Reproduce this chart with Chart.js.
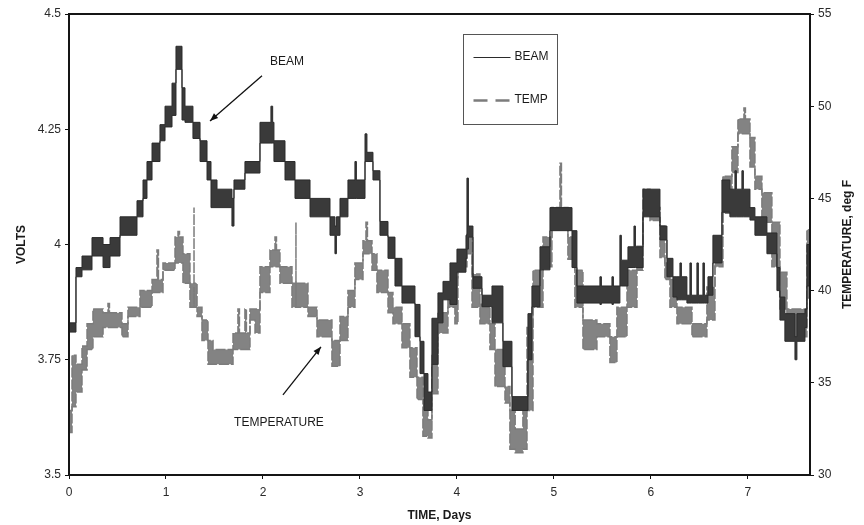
<!DOCTYPE html>
<html>
<head>
<meta charset="utf-8">
<script src="https://cdn.jsdelivr.net/npm/chart.js@4/dist/chart.umd.min.js"></script>
<style>
  html, body { margin: 0; padding: 0; background: #fff; }
  #wrap { width: 864px; height: 525px; }
</style>
</head>
<body>
<div id="wrap"><canvas id="c" width="864" height="525"></canvas></div>
<script>
// Beam output (volts): time in days with the low/high level the signal dithers between
const beamTime = [0.000, 0.072, 0.134, 0.237, 0.351, 0.423, 0.526, 0.701, 0.763, 0.804, 0.856, 0.938, 0.990, 1.062, 1.103, 1.165, 1.196, 1.278, 1.351, 1.423, 1.464, 1.526, 1.680, 1.701, 1.814, 1.969, 2.082, 2.100, 2.113, 2.227, 2.330, 2.485, 2.691, 2.742, 2.757, 2.794, 2.876, 2.948, 2.963, 3.052, 3.072, 3.134, 3.206, 3.289, 3.361, 3.433, 3.567, 3.619, 3.660, 3.701, 3.742, 3.804, 3.856, 3.928, 4.000, 4.093, 4.103, 4.118, 4.165, 4.258, 4.361, 4.474, 4.567, 4.732, 4.773, 4.856, 4.959, 5.186, 5.237, 5.474, 5.489, 5.598, 5.613, 5.680, 5.695, 5.763, 5.825, 5.840, 5.918, 6.093, 6.165, 6.227, 6.268, 6.299, 6.314, 6.371, 6.402, 6.417, 6.474, 6.489, 6.536, 6.551, 6.588, 6.639, 6.732, 6.814, 6.866, 6.881, 6.938, 6.953, 7.021, 7.072, 7.196, 7.299, 7.330, 7.381, 7.485, 7.505, 7.588, 7.608, 7.639];
const beamLow  = [3.81, 3.93, 3.945, 3.975, 3.95, 3.975, 4.02, 4.06, 4.10, 4.14, 4.18, 4.225, 4.255, 4.28, 4.38, 4.27, 4.265, 4.23, 4.18, 4.14, 4.08, 4.08, 4.04, 4.12, 4.155, 4.22, 4.22, 4.22, 4.18, 4.14, 4.10, 4.06, 4.02, 3.98, 4.02, 4.06, 4.10, 4.10, 4.10, 4.18, 4.18, 4.14, 4.02, 3.97, 3.91, 3.873, 3.80, 3.72, 3.64, 3.64, 3.74, 3.83, 3.88, 3.87, 3.94, 3.97, 3.99, 4.016, 3.905, 3.865, 3.83, 3.735, 3.64, 3.75, 3.865, 3.945, 4.03, 3.95, 3.873, 3.87, 3.873, 3.87, 3.873, 3.91, 3.91, 3.95, 3.95, 3.95, 4.06, 4.01, 3.93, 3.886, 3.88, 3.88, 3.88, 3.873, 3.873, 3.873, 3.873, 3.873, 3.873, 3.873, 3.89, 3.96, 4.07, 4.06, 4.06, 4.06, 4.06, 4.06, 4.053, 4.02, 3.98, 3.90, 3.836, 3.79, 3.75, 3.79, 3.82, 3.91, 4.00];
const beamHigh = [3.83, 3.95, 3.975, 4.015, 4.00, 4.015, 4.06, 4.095, 4.14, 4.18, 4.22, 4.26, 4.30, 4.35, 4.43, 4.34, 4.30, 4.265, 4.225, 4.18, 4.14, 4.12, 4.10, 4.14, 4.18, 4.265, 4.30, 4.265, 4.225, 4.18, 4.14, 4.10, 4.06, 4.04, 4.06, 4.10, 4.14, 4.18, 4.14, 4.24, 4.20, 4.16, 4.05, 4.016, 3.97, 3.91, 3.87, 3.79, 3.72, 3.68, 3.84, 3.895, 3.92, 3.96, 3.99, 4.02, 4.144, 4.04, 3.93, 3.89, 3.91, 3.79, 3.67, 3.85, 3.91, 3.995, 4.08, 4.03, 3.91, 3.93, 3.91, 3.93, 3.91, 4.02, 3.966, 3.995, 4.04, 3.995, 4.12, 4.04, 3.97, 3.93, 3.93, 3.96, 3.93, 3.89, 3.96, 3.89, 3.96, 3.89, 3.96, 3.89, 3.93, 4.02, 4.14, 4.12, 4.16, 4.12, 4.16, 4.12, 4.08, 4.06, 4.025, 3.95, 3.886, 3.85, 3.80, 3.85, 3.86, 4.00, 4.00];

// Temperature (deg F): time in days with low/high reading levels
const tempTime = [0.000, 0.031, 0.072, 0.134, 0.186, 0.247, 0.351, 0.402, 0.417, 0.546, 0.608, 0.732, 0.856, 0.907, 0.922, 0.969, 1.093, 1.124, 1.139, 1.175, 1.247, 1.289, 1.289, 1.320, 1.371, 1.433, 1.485, 1.691, 1.742, 1.757, 1.814, 1.829, 1.866, 1.918, 1.969, 2.072, 2.124, 2.139, 2.175, 2.299, 2.340, 2.340, 2.464, 2.557, 2.711, 2.794, 2.876, 2.948, 3.031, 3.062, 3.077, 3.124, 3.175, 3.289, 3.340, 3.433, 3.515, 3.588, 3.649, 3.701, 3.742, 3.804, 3.907, 3.979, 4.010, 4.103, 4.155, 4.237, 4.340, 4.392, 4.495, 4.546, 4.600, 4.680, 4.722, 4.784, 4.887, 4.979, 5.062, 5.077, 5.144, 5.216, 5.299, 5.443, 5.577, 5.649, 5.753, 5.856, 5.918, 5.990, 6.093, 6.144, 6.196, 6.268, 6.423, 6.577, 6.660, 6.742, 6.835, 6.897, 6.959, 6.974, 7.021, 7.072, 7.144, 7.247, 7.330, 7.402, 7.608, 7.639];
const tempLow  = [32.3, 33.7, 34.5, 35.7, 36.8, 37.5, 38.0, 38.0, 38.0, 37.5, 38.6, 39.1, 39.9, 39.9, 39.9, 41.1, 41.5, 41.5, 41.5, 40.4, 39.1, 40.2, 39.1, 38.6, 37.3, 36.0, 36.0, 36.8, 36.8, 36.8, 36.8, 36.8, 38.4, 37.7, 39.9, 41.3, 41.3, 41.3, 40.4, 39.1, 40.5, 39.1, 38.6, 37.5, 35.9, 37.3, 39.1, 40.6, 42.0, 42.0, 42.0, 41.1, 39.9, 38.8, 38.2, 36.9, 35.3, 34.1, 32.1, 32.0, 34.4, 37.7, 39.1, 38.2, 41.3, 42.0, 39.1, 38.2, 36.8, 34.8, 33.9, 31.4, 31.2, 31.4, 33.5, 39.1, 41.3, 43.5, 43.5, 43.5, 41.7, 39.1, 36.8, 37.5, 36.1, 37.5, 39.1, 41.1, 44.2, 43.8, 41.8, 40.6, 39.1, 38.2, 37.5, 38.4, 41.3, 44.2, 46.4, 48.5, 48.5, 48.5, 46.7, 45.5, 43.7, 41.3, 39.0, 37.5, 39.6, 42.0];
const tempHigh = [33.5, 36.5, 36.0, 37.0, 38.2, 39.0, 38.8, 39.3, 38.8, 38.2, 39.1, 40.0, 40.6, 42.2, 40.6, 41.5, 42.9, 43.2, 42.9, 42.0, 40.4, 44.5, 40.4, 39.1, 38.4, 37.3, 36.8, 37.7, 39.0, 37.7, 39.0, 37.7, 39.0, 39.0, 41.3, 42.2, 42.9, 42.2, 41.3, 40.4, 43.7, 40.4, 39.1, 38.4, 37.3, 38.6, 40.0, 41.5, 42.7, 43.7, 42.7, 42.0, 41.1, 39.9, 39.1, 38.2, 36.9, 35.3, 34.1, 33.0, 36.6, 38.8, 40.2, 40.7, 42.2, 43.1, 40.9, 39.3, 38.2, 36.8, 34.8, 33.5, 32.5, 33.5, 38.0, 41.1, 42.9, 44.5, 46.9, 44.5, 42.9, 41.1, 38.4, 38.2, 37.5, 39.1, 41.1, 42.4, 45.5, 44.5, 43.5, 41.5, 40.6, 39.1, 38.2, 40.2, 42.9, 46.2, 47.8, 49.3, 49.9, 49.3, 48.3, 46.2, 45.3, 43.7, 41.0, 39.0, 43.3, 42.0];

// Axis ticks
const timeTicks = [0, 1, 2, 3, 4, 5, 6, 7];
const voltTicks = [3.5, 3.75, 4, 4.25, 4.5];
const voltTickLabels = ['3.5', '3.75', '4', '4.25', '4.5'];
const tempTicks = [30, 35, 40, 45, 50, 55];
const tempTickLabels = ['30', '35', '40', '45', '50', '55'];

const pts = (ts, vs) => ts.map((t, i) => ({ x: t, y: vs[i] }));

const FONT = '"Liberation Sans", Arial, sans-serif';
const BEAM_LINE = '#2b2b2b', BEAM_FILL = '#3a3a3a';
const TEMP_LINE = '#7c7c7c', TEMP_FILL = '#838383';

// Frame, axis titles, legend box and callouts
const decorations = {
  id: 'decorations',
  afterDraw(chart) {
    const { ctx, chartArea: a, scales } = chart;
    const X = v => scales.x.getPixelForValue(v);
    const Y = v => scales.y.getPixelForValue(v);
    ctx.save();

    // plot frame
    ctx.strokeStyle = '#151515';
    ctx.lineWidth = 2;
    ctx.strokeRect(a.left, a.top, a.right - a.left, a.bottom - a.top);

    // axis titles
    ctx.fillStyle = '#1a1a1a';
    ctx.font = 'bold 12px ' + FONT;
    ctx.textAlign = 'center';
    ctx.textBaseline = 'middle';
    ctx.fillText('TIME, Days', (a.left + a.right) / 2, 516);
    ctx.save();
    ctx.translate(22, (a.top + a.bottom) / 2);
    ctx.rotate(-Math.PI / 2);
    ctx.fillText('VOLTS', 0, 0);
    ctx.restore();
    ctx.save();
    ctx.translate(848, (a.top + a.bottom) / 2);
    ctx.rotate(-Math.PI / 2);
    ctx.fillText('TEMPERATURE, deg F', 0, 0);
    ctx.restore();

    // legend
    const lx = 463.5, ly = 34.5;
    ctx.strokeStyle = '#555';
    ctx.lineWidth = 1;
    ctx.strokeRect(lx, ly, 94, 90);
    ctx.font = '12px ' + FONT;
    ctx.textAlign = 'left';
    ctx.fillStyle = '#1a1a1a';
    ctx.strokeStyle = BEAM_LINE;
    ctx.lineWidth = 1;
    ctx.beginPath(); ctx.moveTo(lx + 10, 57.5); ctx.lineTo(lx + 47, 57.5); ctx.stroke();
    ctx.fillText(chart.data.datasets[0].label, lx + 51, 57);
    ctx.strokeStyle = TEMP_LINE;
    ctx.lineWidth = 2.5;
    ctx.setLineDash([14, 8]);
    ctx.beginPath(); ctx.moveTo(lx + 10, 100.5); ctx.lineTo(lx + 47, 100.5); ctx.stroke();
    ctx.setLineDash([]);
    ctx.fillText(chart.data.datasets[2].label, lx + 51, 100);

    // callouts
    const arrow = (x1, y1, x2, y2) => {
      ctx.strokeStyle = '#111';
      ctx.fillStyle = '#111';
      ctx.lineWidth = 1.3;
      ctx.beginPath(); ctx.moveTo(x1, y1); ctx.lineTo(x2, y2); ctx.stroke();
      const ang = Math.atan2(y2 - y1, x2 - x1), L = 8, W = 3.2;
      ctx.beginPath();
      ctx.moveTo(x2, y2);
      ctx.lineTo(x2 - L * Math.cos(ang) + W * Math.sin(ang), y2 - L * Math.sin(ang) - W * Math.cos(ang));
      ctx.lineTo(x2 - L * Math.cos(ang) - W * Math.sin(ang), y2 - L * Math.sin(ang) + W * Math.cos(ang));
      ctx.closePath(); ctx.fill();
    };
    ctx.font = '12px ' + FONT;
    ctx.textAlign = 'center';
    ctx.fillStyle = '#1a1a1a';
    ctx.fillText('BEAM', X(2.247), Y(4.396));
    arrow(X(1.990), Y(4.366), X(1.454), Y(4.268));
    ctx.fillStyle = '#1a1a1a';
    ctx.fillText('TEMPERATURE', X(2.165), Y(3.613));
    arrow(X(2.206), Y(3.674), X(2.598), Y(3.778));
    ctx.restore();
  }
};

const fixedTicks = (vals) => (scale) => { scale.ticks = vals.map(v => ({ value: v })); };

// each level is held from its own time until the next one
const STEP = 'before';

new Chart(document.getElementById('c'), {
  type: 'line',
  data: {
    datasets: [
      { label: 'BEAM', data: pts(beamTime, beamHigh), yAxisID: 'y', stepped: STEP,
        borderColor: BEAM_LINE, borderWidth: 1, pointRadius: 0, fill: false },
      { label: 'beam-low', data: pts(beamTime, beamLow), yAxisID: 'y', stepped: STEP,
        borderColor: BEAM_LINE, borderWidth: 1, pointRadius: 0, fill: '-1', backgroundColor: BEAM_FILL },
      { label: 'TEMP', data: pts(tempTime, tempHigh), yAxisID: 'y2', stepped: STEP,
        borderColor: TEMP_LINE, borderWidth: 1.5, borderDash: [10, 2], pointRadius: 0, fill: false },
      { label: 'temp-low', data: pts(tempTime, tempLow), yAxisID: 'y2', stepped: STEP,
        borderColor: TEMP_LINE, borderWidth: 1.5, borderDash: [10, 2], pointRadius: 0, fill: '-1', backgroundColor: TEMP_FILL }
    ]
  },
  options: {
    responsive: false,
    animation: false,
    devicePixelRatio: 1,
    layout: { padding: { top: 14, left: 0, right: 0, bottom: 0 } },
    plugins: { legend: { display: false }, tooltip: { enabled: false } },
    scales: {
      x: {
        type: 'linear', position: 'bottom', min: 0, max: 7.64,
        afterBuildTicks: fixedTicks(timeTicks),
        afterFit: s => { s.height = 50; },
        grid: { display: true, drawOnChartArea: false, drawTicks: true, tickLength: 4, color: '#111' },
        border: { display: false },
        ticks: { color: '#2a2a2a', font: { family: FONT, size: 12 }, padding: 6, maxRotation: 0 }
      },
      y: {
        type: 'linear', position: 'left', min: 3.5, max: 4.5,
        afterBuildTicks: fixedTicks(voltTicks),
        afterFit: s => { s.width = 69; },
        grid: { display: true, drawOnChartArea: false, drawTicks: true, tickLength: 4, color: '#111' },
        border: { display: false },
        ticks: { color: '#2a2a2a', font: { family: FONT, size: 12 }, padding: 4,
                 callback: (v) => voltTickLabels[voltTicks.indexOf(v)] }
      },
      y2: {
        type: 'linear', position: 'right', min: 30, max: 55,
        afterBuildTicks: fixedTicks(tempTicks),
        afterFit: s => { s.width = 54; },
        grid: { display: true, drawOnChartArea: false, drawTicks: true, tickLength: 4, color: '#111' },
        border: { display: false },
        ticks: { color: '#2a2a2a', font: { family: FONT, size: 12 }, padding: 4,
                 callback: (v) => tempTickLabels[tempTicks.indexOf(v)] }
      }
    }
  },
  plugins: [decorations]
});
</script>
</body>
</html>
